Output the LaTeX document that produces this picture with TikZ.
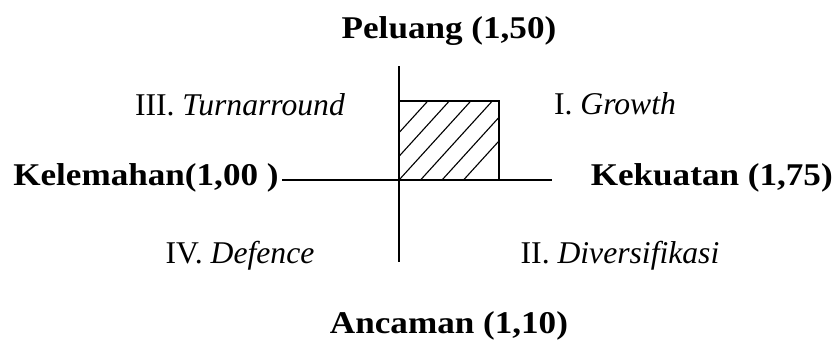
\documentclass[tikz,border=0pt]{standalone}
\usepackage{fontspec}
\setmainfont{Liberation Serif}[BoldFeatures={FakeStretch=1.11}]
\usetikzlibrary{positioning}

\begin{document}
\begin{tikzpicture}[
  x=0.025cm, y=-0.025cm, font=\fontsize{22.5}{26}\selectfont,
  axis/.style={line width=0.9pt},
  side/.style={font=\fontsize{22.5}{26}\selectfont\bfseries, inner sep=0pt, anchor=base},
  quad/.style={inner sep=0pt, anchor=base}]

  \useasboundingbox (0,0) rectangle (837,345);

  % ---- labels ----------------------------------------------------------
  \node[side] (up)    at (449,38)  {Peluang (1,50)};
  \node[side] (down)  at (449,333) {Ancaman (1,10)};
  \node[side, anchor=base west] (left)  at (13,185)  {Kelemahan(1,00 )};
  \node[side, anchor=base east] (right) at (833,185) {Kekuatan (1,75)};

  \node[quad] (q3) at (240,115) {III. \textit{Turnarround}};
  \node[quad] (q1) at (615,114) {I. \textit{Growth}};
  \node[quad] (q4) at (240,263) {IV. \textit{Defence}};
  \node[quad] (q2) at (620,263) {II. \textit{Diversifikasi}};

  % ---- axes ------------------------------------------------------------
  \coordinate (xl) at (282,180);
  \coordinate (xr) at (552,180);
  \coordinate (yt) at (399,66);
  \coordinate (yb) at (399,262);
  \draw[axis] (xl) -- (xr);
  \draw[axis] (yt) -- (yb);

  % ---- hatched box -----------------------------------------------------
  \coordinate (bl) at (399,180);
  \coordinate (tr) at (499,101);
  \begin{scope}
    \clip (bl) rectangle (tr);
    \foreach \k in {-2,...,3} {
      \draw[line width=0.8pt] (399+21.5*\k,180) -- ++(110,-121);
    }
  \end{scope}
  \draw[axis] (bl) |- (tr) -- (tr |- bl);
\end{tikzpicture}
\end{document}
